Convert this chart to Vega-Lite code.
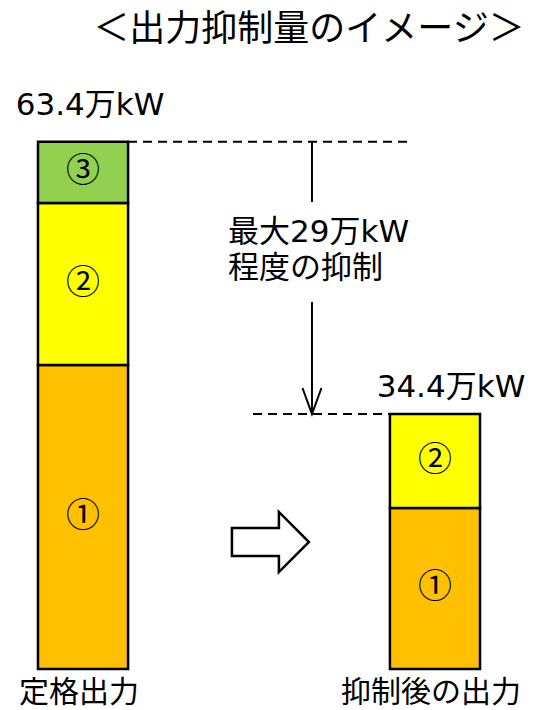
{
  "$schema": "https://vega.github.io/schema/vega-lite/v6.json",
  "width": 542,
  "height": 609,
  "autosize": {"type": "none"},
  "padding": {"top": 60, "bottom": 41, "left": 0, "right": 0},
  "background": "white",
  "title": {
    "text": "＜出力抑制量のイメージ＞",
    "anchor": "middle",
    "frame": "group",
    "orient": "top",
    "baseline": "alphabetic",
    "offset": -17,
    "dx": 38,
    "font": "Noto Sans CJK JP",
    "fontSize": 36,
    "fontWeight": "normal",
    "color": "black"
  },
  "config": {"view": {"stroke": null}},
  "datasets": {
    "segments": [
      {"bar": "定格出力", "seg": "①", "y0": 0, "y1": 36.55},
      {"bar": "定格出力", "seg": "②", "y0": 36.55, "y1": 56.03},
      {"bar": "定格出力", "seg": "③", "y0": 56.03, "y1": 63.4},
      {"bar": "抑制後の出力", "seg": "①", "y0": 0, "y1": 19.36},
      {"bar": "抑制後の出力", "seg": "②", "y0": 19.36, "y1": 30.66}
    ],
    "totals": [
      {"bar": "定格出力", "label": "63.4万kW", "top": 63.4},
      {"bar": "抑制後の出力", "label": "34.4万kW", "top": 30.66}
    ]
  },
  "resolve": {"scale": {"x": "independent"}},
  "layer": [
    {
      "encoding": {
        "x": {
          "field": "bar",
          "type": "nominal",
          "sort": null,
          "scale": {"type": "band", "domain": ["定格出力", "抑制後の出力"], "paddingInner": 0.744, "paddingOuter": 0.142, "align": 0.38},
          "axis": {"title": null, "domain": false, "ticks": false, "grid": false, "labelAngle": 0, "labelFont": "Noto Sans CJK JP", "labelFontSize": 30, "labelColor": "black", "labelPadding": 8, "labelOffset": -4, "labelLimit": 400, "labelOverlap": false, "labelBound": false}
        }
      },
      "layer": [
        {
          "data": {"name": "segments"},
          "mark": {"type": "bar", "stroke": "black", "strokeWidth": 2.5},
          "encoding": {
            "y": {"field": "y0", "type": "quantitative", "scale": {"domain": [0, 73.22], "nice": false, "zero": false}, "axis": null},
            "y2": {"field": "y1"},
            "color": {"field": "seg", "type": "nominal", "scale": {"domain": ["①", "②", "③"], "range": ["#FFC000", "#FFFF00", "#92D050"]}, "legend": null}
          }
        },
        {
          "data": {"name": "segments"},
          "transform": [{"calculate": "(datum.y0 + datum.y1) / 2", "as": "mid"}],
          "mark": {"type": "text", "font": "Noto Sans CJK JP", "fontSize": 34, "color": "black", "baseline": "middle", "align": "center"},
          "encoding": {
            "y": {"field": "mid", "type": "quantitative", "axis": null},
            "text": {"field": "seg"}
          }
        },
        {
          "data": {"name": "totals"},
          "transform": [{"filter": "datum.bar == '定格出力'"}],
          "mark": {"type": "text", "font": "DejaVu Sans, Noto Sans CJK JP", "fontSize": 31, "color": "black", "baseline": "alphabetic", "align": "center", "dx": 7, "dy": -27},
          "encoding": {
            "y": {"field": "top", "type": "quantitative", "axis": null},
            "text": {"field": "label"}
          }
        },
        {
          "data": {"name": "totals"},
          "transform": [{"filter": "datum.bar == '抑制後の出力'"}],
          "mark": {"type": "text", "font": "DejaVu Sans, Noto Sans CJK JP", "fontSize": 31, "color": "black", "baseline": "alphabetic", "align": "center", "dx": 16, "dy": -17},
          "encoding": {
            "y": {"field": "top", "type": "quantitative", "axis": null},
            "text": {"field": "label"}
          }
        }
      ]
    },
    {
      "data": {"values": [{}]},
      "layer": [
        {
          "mark": {"type": "rule", "color": "black", "strokeWidth": 2, "strokeDash": [9, 6]},
          "encoding": {
            "x": {"datum": 1.2557, "type": "quantitative", "scale": {"domain": [0.5284, 3.608], "nice": false, "zero": false}, "axis": null},
            "x2": {"datum": 2.858},
            "y": {"datum": 63.4, "type": "quantitative", "axis": null}
          }
        },
        {
          "mark": {"type": "rule", "color": "black", "strokeWidth": 2, "strokeDash": [9, 6]},
          "encoding": {
            "x": {"datum": 1.966, "type": "quantitative", "axis": null},
            "x2": {"datum": 2.744},
            "y": {"datum": 30.66, "type": "quantitative", "axis": null}
          }
        },
        {
          "mark": {"type": "rule", "color": "black", "strokeWidth": 2},
          "encoding": {
            "x": {"datum": 2.301, "type": "quantitative", "axis": null},
            "y": {"datum": 63.4, "type": "quantitative", "axis": null},
            "y2": {"datum": 56.15}
          }
        },
        {
          "mark": {"type": "rule", "color": "black", "strokeWidth": 2},
          "encoding": {
            "x": {"datum": 2.301, "type": "quantitative", "axis": null},
            "y": {"datum": 44.13, "type": "quantitative", "axis": null},
            "y2": {"datum": 30.66}
          }
        },
        {
          "mark": {"type": "point", "shape": "M -0.365 -1 L 0 0 L 0.365 -1", "size": 2704, "filled": false, "stroke": "black", "strokeWidth": 2, "opacity": 1},
          "encoding": {
            "x": {"datum": 2.301, "type": "quantitative", "axis": null},
            "y": {"datum": 30.66, "type": "quantitative", "axis": null}
          }
        },
        {
          "mark": {"type": "point", "shape": "M -1 -0.364 L 0.22 -0.364 L 0.22 -0.78 L 1 0 L 0.22 0.78 L 0.22 0.364 L -1 0.364 Z", "size": 5929, "filled": true, "fill": "white", "stroke": "black", "strokeWidth": 2.5, "opacity": 1, "strokeJoin": "miter"},
          "encoding": {
            "x": {"datum": 2.065, "type": "quantitative", "axis": null},
            "y": {"datum": 15.27, "type": "quantitative", "axis": null}
          }
        },
        {
          "mark": {"type": "text", "font": "DejaVu Sans, Noto Sans CJK JP", "fontSize": 31, "color": "black", "align": "left", "baseline": "alphabetic", "lineHeight": 36},
          "encoding": {
            "x": {"datum": 1.824, "type": "quantitative", "axis": null},
            "y": {"datum": 51.34, "type": "quantitative", "axis": null},
            "text": {"value": ["最大29万kW", "程度の抑制"]}
          }
        }
      ]
    }
  ]
}
